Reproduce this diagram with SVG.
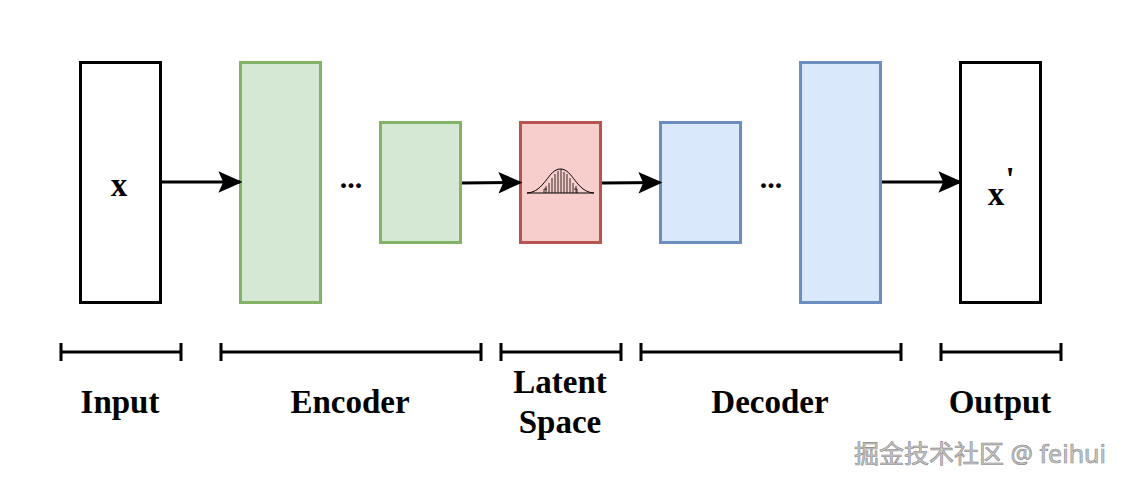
<svg xmlns="http://www.w3.org/2000/svg" width="1122" height="484" viewBox="0 0 1122 484">
<style>
.io{fill:#ffffff;stroke:#000;stroke-width:3}
.enc{fill:#d5e8d4;stroke:#82b366;stroke-width:3}
.lat{fill:#f8cecc;stroke:#b85450;stroke-width:3}
.dec{fill:#dae8fc;stroke:#6c8ebf;stroke-width:3}
.lbl{font-family:"Liberation Serif",serif;font-weight:bold;font-size:33px;text-anchor:middle;fill:#000}
.edge{stroke:#000;stroke-width:3;fill:none}
.br{stroke:#000;stroke-width:3;fill:none}
.dots{font-family:"Liberation Serif",serif;font-weight:bold;font-size:30px;text-anchor:middle}
</style>
<defs>
<marker id="ah" viewBox="0 0 10 10" refX="9" refY="5" markerWidth="8" markerHeight="8" orient="auto" markerUnits="strokeWidth">
<path d="M0,0.5 L10,5 L0,9.5 L2,5 Z" fill="#000"/>
</marker>
</defs>
<rect width="1122" height="484" fill="#fff"/>
<g id="input"><rect class="io" x="80.5" y="62.5" width="80" height="240"/><text class="lbl" x="119" y="196" font-size="40">x</text></g>
<g id="enc1"><rect class="enc" x="240.5" y="62.5" width="80" height="240"/></g>
<g id="enc-dots"><text class="dots" x="351" y="188">...</text></g>
<g id="enc2"><rect class="enc" x="380.5" y="122.5" width="80" height="120"/></g>
<g id="latent"><rect class="lat" x="520.5" y="122.5" width="80" height="120"/>
<g stroke="#000" stroke-width="0.8" fill="none">
<path d="M527,193 L594,193" stroke-width="1"/>
<path d="M527,193 C545,192 548,169 560.5,169 C573,169 576,192 594,193" stroke-width="1"/>
<path d="M546,193 V186 M549,193 V183 M552,193 V178 M555,193 V174 M558,193 V171 M561,193 V169 M564,193 V172 M567,193 V174 M570,193 V178 M573,193 V183 M576,193 V186"/>
<path d="M544,193 V189 H547 M574,189 H577 V193"/>
</g>
</g>
<g id="dec1"><rect class="dec" x="660.5" y="122.5" width="80" height="120"/></g>
<g id="dec-dots"><text class="dots" x="771" y="188">...</text></g>
<g id="dec2"><rect class="dec" x="800.5" y="62.5" width="80" height="240"/></g>
<g id="output"><rect class="io" x="960.5" y="62.5" width="80" height="240"/><text class="lbl" x="996" y="205" font-size="40">x</text><text class="lbl" x="1010" y="190" font-size="50">'</text></g>
<g id="connectors">
<line class="edge" x1="162" y1="182" x2="240" y2="182" marker-end="url(#ah)"/>
<line class="edge" x1="462" y1="183" x2="520" y2="182.5" marker-end="url(#ah)"/>
<line class="edge" x1="602" y1="183" x2="660" y2="182.5" marker-end="url(#ah)"/>
<line class="edge" x1="882" y1="182" x2="960" y2="182" marker-end="url(#ah)"/>
</g>
<g id="brackets">
<path class="br" d="M61,352 H181 M61,343 V361 M181,343 V361"/>
<path class="br" d="M221,352 H481 M221,343 V361 M481,343 V361"/>
<path class="br" d="M501,352 H621 M501,343 V361 M621,343 V361"/>
<path class="br" d="M641,352 H901 M641,343 V361 M901,343 V361"/>
<path class="br" d="M941,352 H1061 M941,343 V361 M1061,343 V361"/>
</g>
<g id="labels">
<text class="lbl" x="120" y="413">Input</text>
<text class="lbl" x="350" y="413">Encoder</text>
<text class="lbl" x="560" y="393">Latent</text>
<text class="lbl" x="560" y="433">Space</text>
<text class="lbl" x="770" y="413">Decoder</text>
<text class="lbl" x="1000" y="413">Output</text>
</g>
<text x="1106" y="463" text-anchor="end" font-family="'Noto Sans','Noto Sans CJK SC',sans-serif" font-size="25" fill="#c8c8c8" stroke="#888" stroke-width="0.6">掘金技术社区 @ feihui</text>
</svg>
